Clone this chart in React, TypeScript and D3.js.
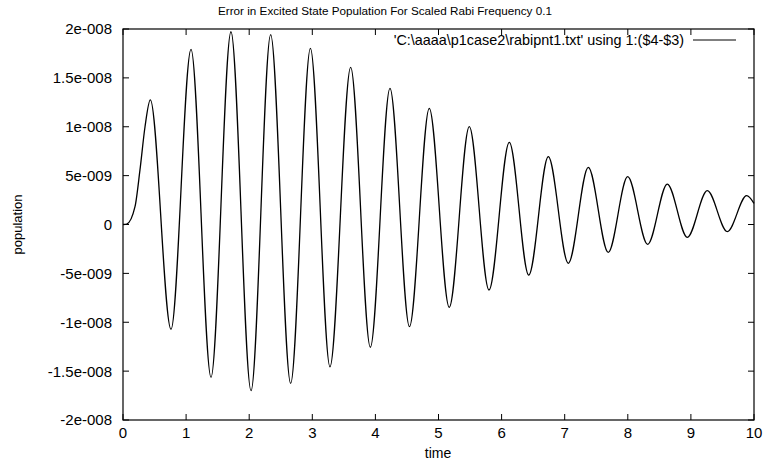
import React from "react";
import * as d3 from "d3";

const times = [0, 0.06, 0.19, 0.269, 0.349, 0.433, 0.761, 1.078, 1.395, 1.711, 2.029, 2.34, 2.657, 2.97, 3.28, 3.608, 3.92, 4.231, 4.54, 4.854, 5.17, 5.488, 5.8, 6.122, 6.43, 6.74, 7.057, 7.374, 7.69, 7.998, 8.315, 8.626, 8.943, 9.26, 9.577, 9.884, 10];
const valuesE9 = [0, 0.05, 1.82, 5.58, 10.0, 12.74, -10.72, 17.92, -15.63, 19.72, -17.0, 19.42, -16.25, 18.02, -14.55, 16.08, -12.56, 13.93, -10.45, 11.89, -8.47, 10.01, -6.7, 8.41, -5.17, 6.94, -3.97, 5.85, -2.85, 4.89, -2.03, 4.14, -1.31, 3.46, -0.73, 2.95, 2.17];

const xTicks = [0, 1, 2, 3, 4, 5, 6, 7, 8, 9, 10];
const yTicks = [-2e-8, -1.5e-8, -1e-8, -5e-9, 0, 5e-9, 1e-8, 1.5e-8, 2e-8];
const yTickLabels = ["-2e-008", "-1.5e-008", "-1e-008", "-5e-009", "0", "5e-009", "1e-008", "1.5e-008", "2e-008"];

const title = "Error in Excited State Population For Scaled Rabi Frequency 0.1";
const xLabel = "time";
const yLabel = "population";
const legendLabel = "'C:\\aaaa\\p1case2\\rabipnt1.txt' using 1:($4-$3)";

const W = 767, H = 465;
const L = 123, R = 754, T = 29, B = 420;
const FONT = "'Liberation Sans', Arial, Helvetica, sans-serif";

export default function App() {
  const x = d3.scaleLinear().domain([0, 10]).range([L, R]);
  const y = d3.scaleLinear().domain([-2e-8, 2e-8]).range([B, T]);
  const data = times.map((t, i) => [t, valuesE9[i] * 1e-9] as [number, number]);
  const line = d3.line<[number, number]>().x(d => x(d[0])).y(d => y(d[1])).curve(d3.curveMonotoneX);
  const tl = 6;
  return (
    <svg width={W} height={H} style={{ position: "absolute", left: 0, top: 0, background: "#fff" }} fontFamily={FONT}>
      <rect x={0} y={0} width={W} height={H} fill="#fff" />
      <text x={385} y={15} textAnchor="middle" fontSize={11.7}>{title}</text>
      {xTicks.map(t => (
        <g key={"x" + t}>
          <line x1={x(t)} x2={x(t)} y1={B} y2={B - tl} stroke="#000" />
          <line x1={x(t)} x2={x(t)} y1={T} y2={T + tl} stroke="#000" />
          <text x={x(t)} y={438} textAnchor="middle" fontSize={15}>{t}</text>
        </g>
      ))}
      {yTicks.map((v, i) => (
        <g key={"y" + i}>
          <line x1={L} x2={L + tl} y1={y(v)} y2={y(v)} stroke="#000" />
          <line x1={R} x2={R - tl} y1={y(v)} y2={y(v)} stroke="#000" />
          <text x={112} y={y(v)} dy="0.36em" textAnchor="end" fontSize={15}>{yTickLabels[i]}</text>
        </g>
      ))}
      <text x={438} y={458} textAnchor="middle" fontSize={14}>{xLabel}</text>
      <text transform={`translate(22,${(T + B) / 2}) rotate(-90)`} textAnchor="middle" fontSize={13}>{yLabel}</text>
      <text x={684} y={45} textAnchor="end" fontSize={14.4}>{legendLabel}</text>
      <line x1={693} x2={736} y1={40} y2={40} stroke="#000" strokeWidth={1} />
      <path d={line(data) || ""} fill="none" stroke="#000" strokeWidth={1.3} />
      <rect x={L} y={T} width={R - L} height={B - T} fill="none" stroke="#000" strokeWidth={1.2} />
    </svg>
  );
}
